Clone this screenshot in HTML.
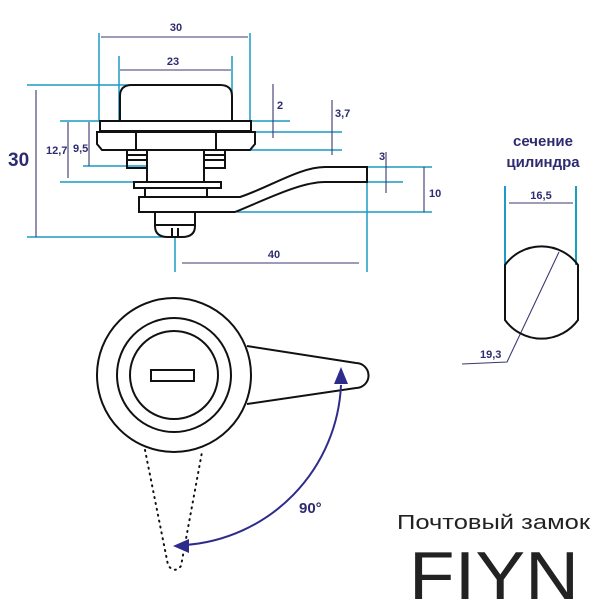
<!DOCTYPE html>
<html><head><meta charset="utf-8"><style>
html,body{margin:0;padding:0;background:#fff;width:600px;height:616px;overflow:hidden}
svg{display:block}
text{font-family:"Liberation Sans",sans-serif;fill:#2e2c6e}
</style></head><body>
<svg width="600" height="616" viewBox="0 0 600 616" xmlns="http://www.w3.org/2000/svg">
<g stroke="#1a9cc4" stroke-width="1.5" fill="none">
<line x1="99" y1="33" x2="99" y2="121"/><line x1="250" y1="33" x2="250" y2="121"/>
<line x1="119" y1="56" x2="119" y2="120"/><line x1="232" y1="56" x2="232" y2="100"/>
<line x1="27" y1="85" x2="168" y2="85"/>
<line x1="60" y1="121" x2="290" y2="121"/>
<line x1="235" y1="132" x2="342" y2="132"/>
<line x1="240" y1="150" x2="342" y2="150"/>
<line x1="83" y1="166" x2="147" y2="166"/>
<line x1="60" y1="182" x2="140" y2="182"/>
<line x1="360" y1="167" x2="432" y2="167"/>
<line x1="367" y1="182" x2="403" y2="182"/>
<line x1="237" y1="212" x2="432" y2="212"/>
<line x1="27" y1="237" x2="170" y2="237"/>
<line x1="175" y1="237" x2="175" y2="272"/>
<line x1="367" y1="182" x2="367" y2="272"/>
<line x1="505" y1="186" x2="505" y2="265" stroke-width="2"/>
<line x1="576" y1="186" x2="576" y2="265" stroke-width="2"/>
</g>
<g stroke="#3a3870" stroke-width="1.1" fill="none">
<line x1="101" y1="37" x2="248" y2="37"/>
<line x1="120" y1="70" x2="231" y2="70"/>
<line x1="36" y1="90" x2="36" y2="237"/>
<line x1="68" y1="122" x2="68" y2="178"/>
<line x1="89" y1="122" x2="89" y2="166"/>
<line x1="273" y1="84" x2="273" y2="138"/>
<line x1="332" y1="100" x2="332" y2="155"/>
<line x1="386" y1="152" x2="386" y2="193"/>
<line x1="424" y1="167" x2="424" y2="212"/>
<line x1="182" y1="263" x2="359" y2="263"/>
<line x1="509" y1="203" x2="573" y2="203"/>
<polyline points="559,252 507,362 462,364"/>
</g>
<g stroke="#111" stroke-width="2" fill="none">
<path d="M120,121 L120,96 Q120,85 132,85 L220,85 Q232,85 232,96 L232,121"/>
<rect x="100" y="121" width="151" height="10"/>
<path d="M97,132 L255,132 L255,144 L250,150 L102,150 L97,144 Z"/>
<line x1="136" y1="132" x2="136" y2="150"/><line x1="216" y1="132" x2="216" y2="150"/>
<path d="M127,150 L147,150 L147,168 L127,168 Z"/>
<path d="M204,150 L225,150 L225,168 L204,168 Z"/>
<line x1="128" y1="155" x2="146" y2="155"/><line x1="128" y1="160" x2="146" y2="160"/>
<line x1="205" y1="155" x2="224" y2="155"/><line x1="205" y1="160" x2="224" y2="160"/>
<rect x="147" y="150" width="57" height="32"/>
<rect x="134" y="182" width="87" height="6"/>
<rect x="145" y="188" width="62" height="9"/>
<path d="M139,197 L240,197 C270,187 300,167 325,167 L367,167 L367,182 L325,182 C300,182 265,200 235,212 L139,212 Z"/>
<path d="M155,212 L155,226 Q155,237 168,237 L182,237 Q195,237 195,226 L195,212"/>
<line x1="155" y1="225" x2="195" y2="225"/>
<line x1="172" y1="228" x2="172" y2="237"/><line x1="178" y1="228" x2="178" y2="237"/>
<circle cx="174" cy="375" r="77"/>
<circle cx="174" cy="375" r="57"/>
<circle cx="174" cy="375" r="44"/>
<rect x="151" y="370" width="43" height="11"/>
<path d="M247,346 L356,363 A12.5,12.5 0 0 1 356,388 L247,404"/>
<path d="M505,265 A45,45 0 0 1 578,265 L578,320 A45,45 0 0 1 505,320 Z"/>
</g>
<path d="M145,450 L168,565 Q174,574 181,566 L202,452" stroke="#111" stroke-width="2" stroke-dasharray="1,5" stroke-linecap="round" fill="none"/>
<path d="M341,385 A168,168 0 0 1 185,545" stroke="#2e2c8a" stroke-width="2" fill="none"/>
<polygon points="341,367 334,384 348,384" fill="#2e2c8a"/>
<polygon points="173,546 189,539 189,553" fill="#2e2c8a"/>
<g font-size="11" font-weight="bold">
<text x="176" y="31" text-anchor="middle">30</text>
<text x="173" y="65" text-anchor="middle">23</text>
<text x="46" y="154">12,7</text>
<text x="73" y="152">9,5</text>
<text x="277" y="109">2</text>
<text x="335" y="117">3,7</text>
<text x="379" y="160">3</text>
<text x="429" y="197">10</text>
<text x="274" y="258" text-anchor="middle">40</text>
<text x="541" y="199" text-anchor="middle">16,5</text>
<text x="480" y="358">19,3</text>
</g>
<text x="8" y="166" font-size="19" font-weight="bold">30</text>
<text x="299" y="513" font-size="15" font-weight="bold">90°</text>
<text x="543" y="146" font-size="15" font-weight="bold" text-anchor="middle">сечение</text>
<text x="543" y="167" font-size="15" font-weight="bold" text-anchor="middle">цилиндра</text>
<text x="397" y="529" font-size="20" style="fill:#222" textLength="193" lengthAdjust="spacingAndGlyphs">Почтовый замок</text>
<text x="409" y="599" font-size="68" style="fill:#222" textLength="170" lengthAdjust="spacingAndGlyphs">FIYN</text>
</svg>
</body></html>
